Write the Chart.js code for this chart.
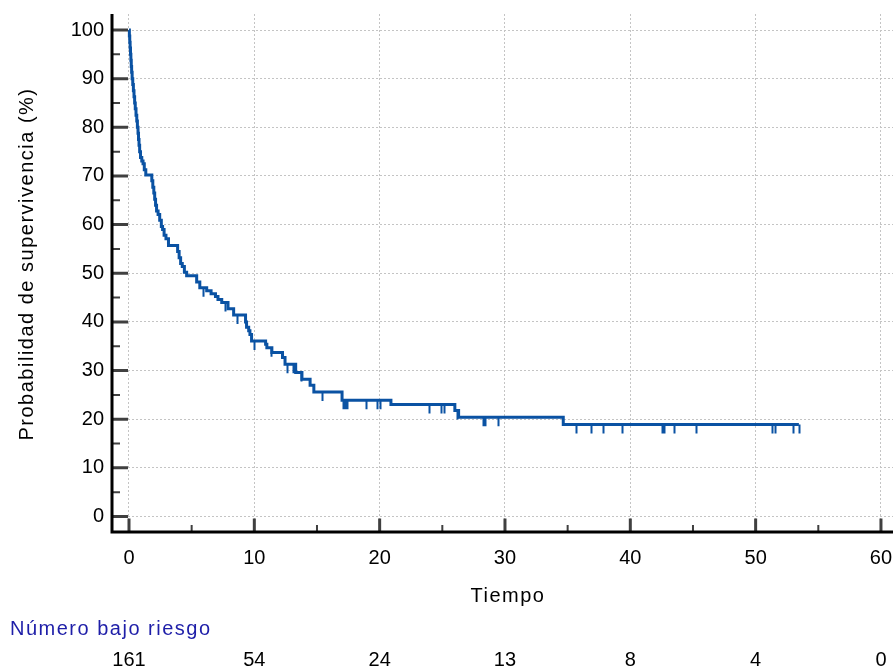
<!DOCTYPE html>
<html lang="es">
<head>
<meta charset="utf-8">
<title>Curva de supervivencia</title>
<script src="https://cdn.jsdelivr.net/npm/chart.js@4.4.1/dist/chart.umd.min.js"></script>
<style>
    html, body { margin: 0; padding: 0; background: #fff; }
    canvas { display: block; }
</style>
</head>
<body>
<canvas id="kmChart" width="893" height="669"></canvas>
<script>
// Kaplan-Meier steps: time of each drop and survival (%) after it
const eventTimes = [0, 0.03, 0.06, 0.09, 0.12, 0.15, 0.18, 0.21, 0.25, 0.30, 0.35, 0.40, 0.45, 0.50, 0.56,
    0.62, 0.67, 0.72, 0.76, 0.80, 0.85, 0.92, 1.02, 1.12, 1.22, 1.34, 1.82, 1.90, 1.98, 2.05, 2.12,
    2.20, 2.32, 2.45, 2.58, 2.68, 2.80, 2.95, 3.15, 3.88, 4.00, 4.12, 4.25, 4.42, 4.60, 5.40, 5.65,
    6.20, 6.55, 6.90, 7.10, 7.40, 7.90, 8.35, 9.30, 9.38, 9.55, 9.65, 9.78, 10.90, 11.00, 11.40,
    12.25, 12.45, 13.30, 13.80, 14.45, 14.75, 17.00, 20.90, 26.00, 26.30, 34.65];
const survival = [100, 98.8, 97.5, 96.3, 95.0, 93.8, 92.5, 91.3, 90.0, 88.8, 87.5, 86.3, 85.0, 83.8, 82.5,
    81.3, 80.0, 78.8, 77.5, 76.3, 75.0, 73.8, 73.1, 72.5, 71.3, 70.2, 69.0, 67.7, 66.5, 65.2, 64.0,
    62.8, 62.1, 60.9, 59.6, 59.0, 57.8, 57.1, 55.7, 54.5, 53.2, 52.0, 51.4, 50.2, 49.5, 48.2, 47.0,
    46.4, 45.8, 45.2, 44.6, 44.0, 42.7, 41.4, 40.0, 38.9, 38.2, 37.4, 36.1, 35.4, 34.7, 33.7,
    32.7, 31.3, 29.6, 28.2, 27.0, 25.6, 23.9, 23.0, 21.8, 20.4, 18.9];
const followUpEnd = 53.45;

const censorTimes = [5.88, 7.64, 8.62, 9.98, 11.31, 12.57, 13.06, 13.25, 13.73, 15.38, 17.08, 17.24, 17.40,
    18.91, 19.77, 20.03, 23.92, 24.88, 25.16, 26.15, 28.23, 28.44, 29.45, 35.67, 36.87, 37.81, 39.32,
    42.54, 42.70, 43.47, 45.23, 51.29, 51.58, 52.97, 53.45];

const xTicks = [0, 10, 20, 30, 40, 50, 60];
const yTicks = [0, 10, 20, 30, 40, 50, 60, 70, 80, 90, 100];
const xMinor = [5, 15, 25, 35, 45, 55];
const yMinor = [5, 15, 25, 35, 45, 55, 65, 75, 85, 95];
const atRisk = [161, 54, 24, 13, 8, 4, 0];

const X_TITLE = 'Tiempo';
const Y_TITLE = 'Probabilidad de supervivencia (%)';
const RISK_TITLE = 'Número bajo riesgo';

const FONT = '"Liberation Sans", Arial, sans-serif';
const LINE_COLOR = '#0a52a3';

function survivalAt(t) {
    let s = survival[0];
    eventTimes.forEach((et, i) => { if (et <= t) s = survival[i]; });
    return s;
}

const kmPoints = eventTimes.map((t, i) => ({ x: t, y: survival[i] }));
kmPoints.push({ x: followUpEnd, y: survival[survival.length - 1] });

// keep the plot box fixed: no extra padding for edge labels
function fixBox(size) {
    return s => {
        if (s.isHorizontal()) s.height = size; else s.width = size;
        s.paddingTop = s.paddingBottom = s.paddingLeft = s.paddingRight = 0;
    };
}

const kmDecor = {
    id: 'kmDecor',
    afterDatasetsDraw(chart) {
        const { ctx, scales: { x, y } } = chart;
        ctx.save();
        ctx.strokeStyle = LINE_COLOR;
        ctx.lineWidth = 2;
        ctx.beginPath();
        censorTimes.forEach(t => {
            const px = Math.round(x.getPixelForValue(t)) + 0.5;
            const py = y.getPixelForValue(survivalAt(t));
            ctx.moveTo(px, py);
            ctx.lineTo(px, py + 9);
        });
        ctx.stroke();
        ctx.restore();
    },
    afterDraw(chart) {
        const { ctx, chartArea: a, scales: { x, y } } = chart;
        const x0 = x.getPixelForValue(0);
        const y0 = y.getPixelForValue(0);
        ctx.save();
        // tick marks, drawn inward
        ctx.strokeStyle = '#404040';
        ctx.lineWidth = 3;
        ctx.beginPath();
        yTicks.forEach(v => { const p = y.getPixelForValue(v); ctx.moveTo(a.left, p); ctx.lineTo(x0 - 1, p); });
        xTicks.forEach(v => { const p = x.getPixelForValue(v); ctx.moveTo(p, a.bottom); ctx.lineTo(p, y0 + 2); });
        ctx.stroke();
        ctx.lineWidth = 2;
        ctx.beginPath();
        yMinor.forEach(v => { const p = y.getPixelForValue(v); ctx.moveTo(a.left, p); ctx.lineTo(a.left + 8, p); });
        xMinor.forEach(v => { const p = x.getPixelForValue(v); ctx.moveTo(p, a.bottom); ctx.lineTo(p, a.bottom - 7); });
        ctx.stroke();
        // axis lines
        ctx.strokeStyle = '#000';
        ctx.lineWidth = 3;
        ctx.beginPath();
        ctx.moveTo(a.left, a.top);
        ctx.lineTo(a.left, a.bottom + 1.5);
        ctx.moveTo(a.left - 1.5, a.bottom);
        ctx.lineTo(a.right, a.bottom);
        ctx.stroke();

        // axis titles (wide-set lettering like the original)
        ctx.font = '20px ' + FONT;
        ctx.fillStyle = '#000';
        ctx.letterSpacing = '1.5px';
        ctx.textAlign = 'center';
        ctx.textBaseline = 'alphabetic';
        ctx.fillText(X_TITLE, 508, 602);
        ctx.save();
        ctx.translate(27, 264);
        ctx.rotate(-Math.PI / 2);
        ctx.textBaseline = 'middle';
        ctx.fillText(Y_TITLE, 0, 0);
        ctx.restore();

        // number at risk
        ctx.textAlign = 'left';
        ctx.fillStyle = '#1e1ea8';
        ctx.fillText(RISK_TITLE, 10, 635);
        ctx.letterSpacing = '0px';
        ctx.textAlign = 'center';
        ctx.fillStyle = '#000';
        atRisk.forEach((n, i) => ctx.fillText(String(n), x.getPixelForValue(xTicks[i]), 665.5));
        ctx.restore();
    }
};

new Chart(document.getElementById('kmChart'), {
    type: 'line',
    data: {
        datasets: [{
            data: kmPoints,
            stepped: 'before',
            borderColor: LINE_COLOR,
            borderWidth: 3,
            pointRadius: 0,
            fill: false
        }]
    },
    options: {
        responsive: false,
        devicePixelRatio: 1,
        animation: false,
        layout: { padding: { top: 14, right: 0, bottom: 0, left: 0 } },
        plugins: { legend: { display: false }, tooltip: { enabled: false } },
        scales: {
            x: {
                type: 'linear',
                min: -1.356,
                max: 60.96,
                afterBuildTicks: s => { s.ticks = xTicks.map(v => ({ value: v })); },
                afterFit: fixBox(137),
                ticks: { font: { size: 20, family: FONT }, color: '#000', padding: 14, maxRotation: 0, autoSkip: false },
                grid: { color: '#c4c4c4', lineWidth: 1, drawTicks: false },
                border: { display: false, dash: [2, 2] }
            },
            y: {
                min: -3.19,
                max: 103.3,
                afterBuildTicks: s => { s.ticks = yTicks.map(v => ({ value: v })); },
                afterFit: fixBox(112),
                ticks: { font: { size: 20, family: FONT }, color: '#000', padding: 8, autoSkip: false },
                grid: { color: '#c4c4c4', lineWidth: 1, drawTicks: false },
                border: { display: false, dash: [2, 2] }
            }
        }
    },
    plugins: [kmDecor]
});
</script>
</body>
</html>
